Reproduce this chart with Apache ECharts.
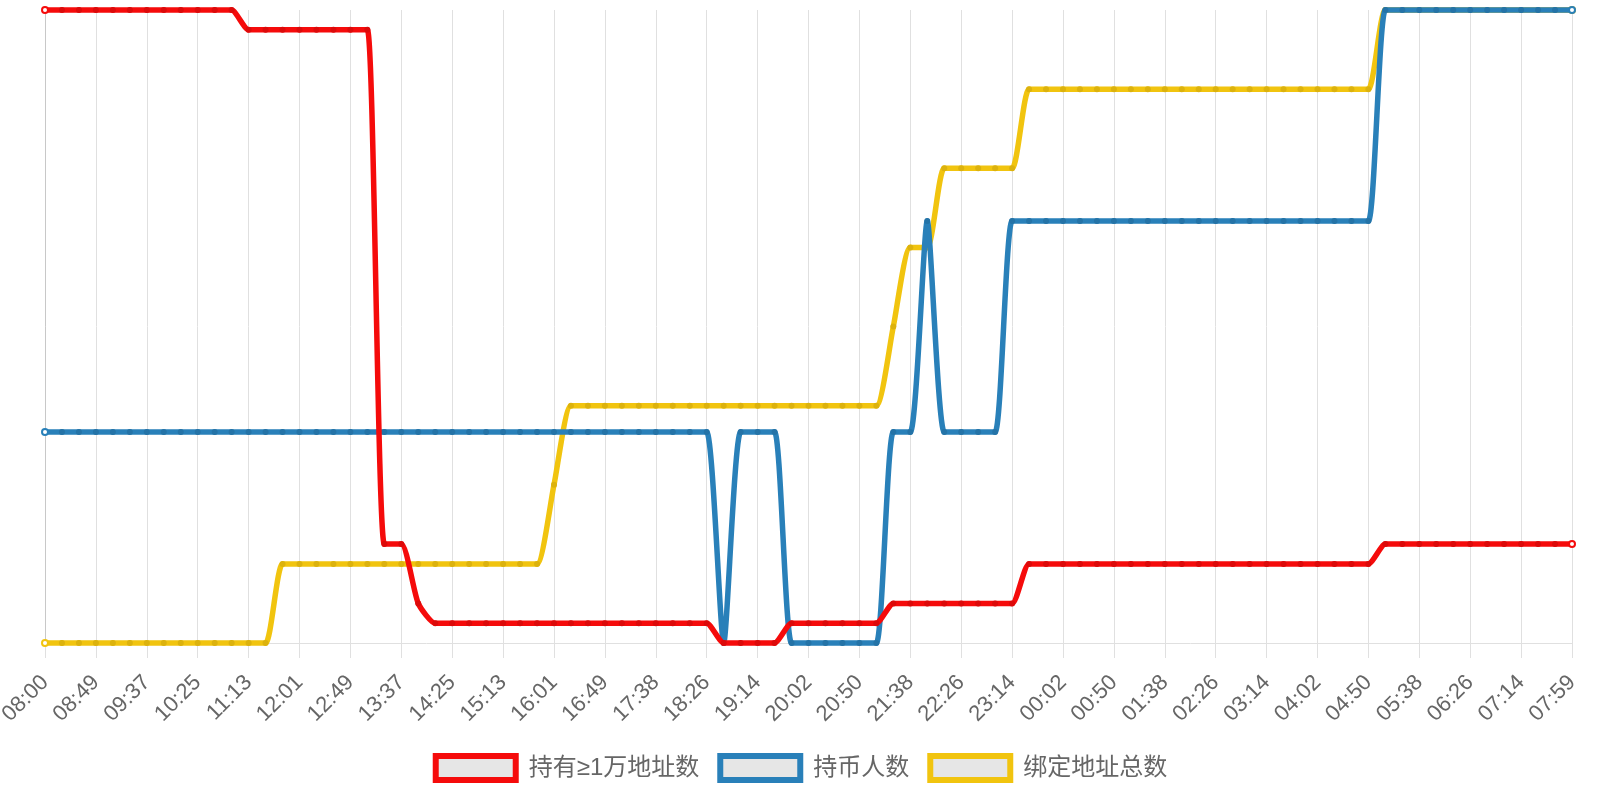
<!DOCTYPE html>
<html>
<head>
<meta charset="utf-8">
<script src="https://cdn.jsdelivr.net/npm/echarts@6/dist/echarts.min.js"></script>
<style>
html,body{margin:0;padding:0;background:#fff;}
#chart{width:1600px;height:800px;}
</style>
</head>
<body>
<div id="chart"></div>
<script>
const categories = [
"08:00","08:16","08:33",
"08:49","09:05","09:21",
"09:37","09:53","10:09",
"10:25","10:41","10:57",
"11:13","11:29","11:45",
"12:01","12:17","12:33",
"12:49","13:05","13:21",
"13:37","13:53","14:09",
"14:25","14:41","14:57",
"15:13","15:29","15:45",
"16:01","16:17","16:33",
"16:49","17:05","17:22",
"17:38","17:54","18:10",
"18:26","18:42","18:58",
"19:14","19:30","19:46",
"20:02","20:18","20:34",
"20:50","21:06","21:22",
"21:38","21:54","22:10",
"22:26","22:42","22:58",
"23:14","23:30","23:46",
"00:02","00:18","00:34",
"00:50","01:06","01:22",
"01:38","01:54","02:10",
"02:26","02:42","02:58",
"03:14","03:30","03:46",
"04:02","04:18","04:34",
"04:50","05:06","05:22",
"05:38","05:54","06:10",
"06:26","06:42","06:58",
"07:14","07:29","07:44",
"07:59"
];

const seriesNames = ["持有≥1万地址数", "持币人数", "绑定地址总数"];

const bigHolders = [
32,32,32,32,32,32,32,32,32,32,32,32,
31,31,31,31,31,31,31,31,
5,5,2,
1,1,1,1,1,1,1,1,1,1,1,1,1,1,1,1,1,
0,0,0,0,
1,1,1,1,1,1,
2,2,2,2,2,2,2,2,
4,4,4,4,4,4,4,4,4,4,4,4,4,4,4,4,4,4,4,4,4,
5,5,5,5,5,5,5,5,5,5,5,5
];

const holders = [
1,1,1,1,1,1,1,1,1,1,1,1,1,1,1,1,1,1,1,1,
1,1,1,1,1,1,1,1,1,1,1,1,1,1,1,1,1,1,1,1,
0,
1,1,1,
0,0,0,0,0,0,
1,1,
2,
1,1,1,1,
2,2,2,2,2,2,2,2,2,2,2,2,2,2,2,2,2,2,2,2,2,2,
3,3,3,3,3,3,3,3,3,3,3,3
];

const boundAddresses = [
0,0,0,0,0,0,0,0,0,0,0,0,0,0,
1,1,1,1,1,1,1,1,1,1,1,1,1,1,1,1,
2,
3,3,3,3,3,3,3,3,3,3,3,3,3,3,3,3,3,3,3,
4,
5,5,
6,6,6,6,6,
7,7,7,7,7,7,7,7,7,7,7,7,7,7,7,7,7,7,7,7,7,
8,8,8,8,8,8,8,8,8,8,8,8
];

const colors = ["#f50b0b", "#2980b9", "#f1c40f"];
const pointColors = ["#dc0a0a", "#2473a7", "#dcb20d"];

function buildData(arr, c) {
  return arr.map((v, i) => {
    if (i === 0 || i === arr.length - 1) {
      return { value: v, itemStyle: { color: "#ffffff", borderColor: c, borderWidth: 2 } };
    }
    return v;
  });
}

const font = '"Liberation Sans", "Noto Sans CJK SC", sans-serif';
const chart = echarts.init(document.getElementById("chart"));
const valuesList = [bigHolders, holders, boundAddresses];
const zs = [4, 3, 2];

chart.setOption({
  animation: false,
  grid: { left: 45, right: 28, top: 10, bottom: 157, containLabel: false, outerBoundsMode: "none" },
  legend: {
    left: "center",
    top: 748,
    icon: "rect",
    itemWidth: 80,
    itemHeight: 24,
    itemGap: 18,
    textStyle: { fontSize: 24, color: "#666666", fontFamily: font, padding: [0, 0, 0, 8] },
    data: seriesNames.map((n, i) => ({
      name: n,
      itemStyle: { color: "#e6e6e6", borderColor: colors[i], borderWidth: 6 }
    }))
  },
  xAxis: {
    type: "category",
    boundaryGap: false,
    data: categories,
    axisLine: { show: true, lineStyle: { color: "#e0e0e0", width: 1 } },
    axisTick: { show: true, interval: 2, length: 15, lineStyle: { color: "#e0e0e0" } },
    splitLine: { show: true, interval: 2, lineStyle: { color: "#e0e0e0", width: 1 } },
    axisLabel: { interval: 2, rotate: 45, fontSize: 22, color: "#666666", fontFamily: font, margin: 36 }
  },
  yAxis: [
    { type: "value", min: 0, max: 32, position: "left",
      axisLine: { show: true, lineStyle: { color: "#c8c8c8" } },
      axisLabel: { show: false }, axisTick: { show: false }, splitLine: { show: false } },
    { type: "value", min: 0, max: 3, show: false, position: "left" },
    { type: "value", min: 0, max: 8, show: false, position: "left" }
  ],
  series: seriesNames.map((n, i) => ({
    name: n,
    type: "line",
    yAxisIndex: i,
    z: zs[i],
    smooth: 0.2,
    clip: false,
    symbol: "circle",
    symbolSize: 6,
    showSymbol: true,
    showAllSymbol: true,
    color: colors[i],
    lineStyle: { color: colors[i], width: 5.5 },
    itemStyle: { color: pointColors[i] },
    data: buildData(valuesList[i], colors[i])
  }))
});
</script>
</body>
</html>
